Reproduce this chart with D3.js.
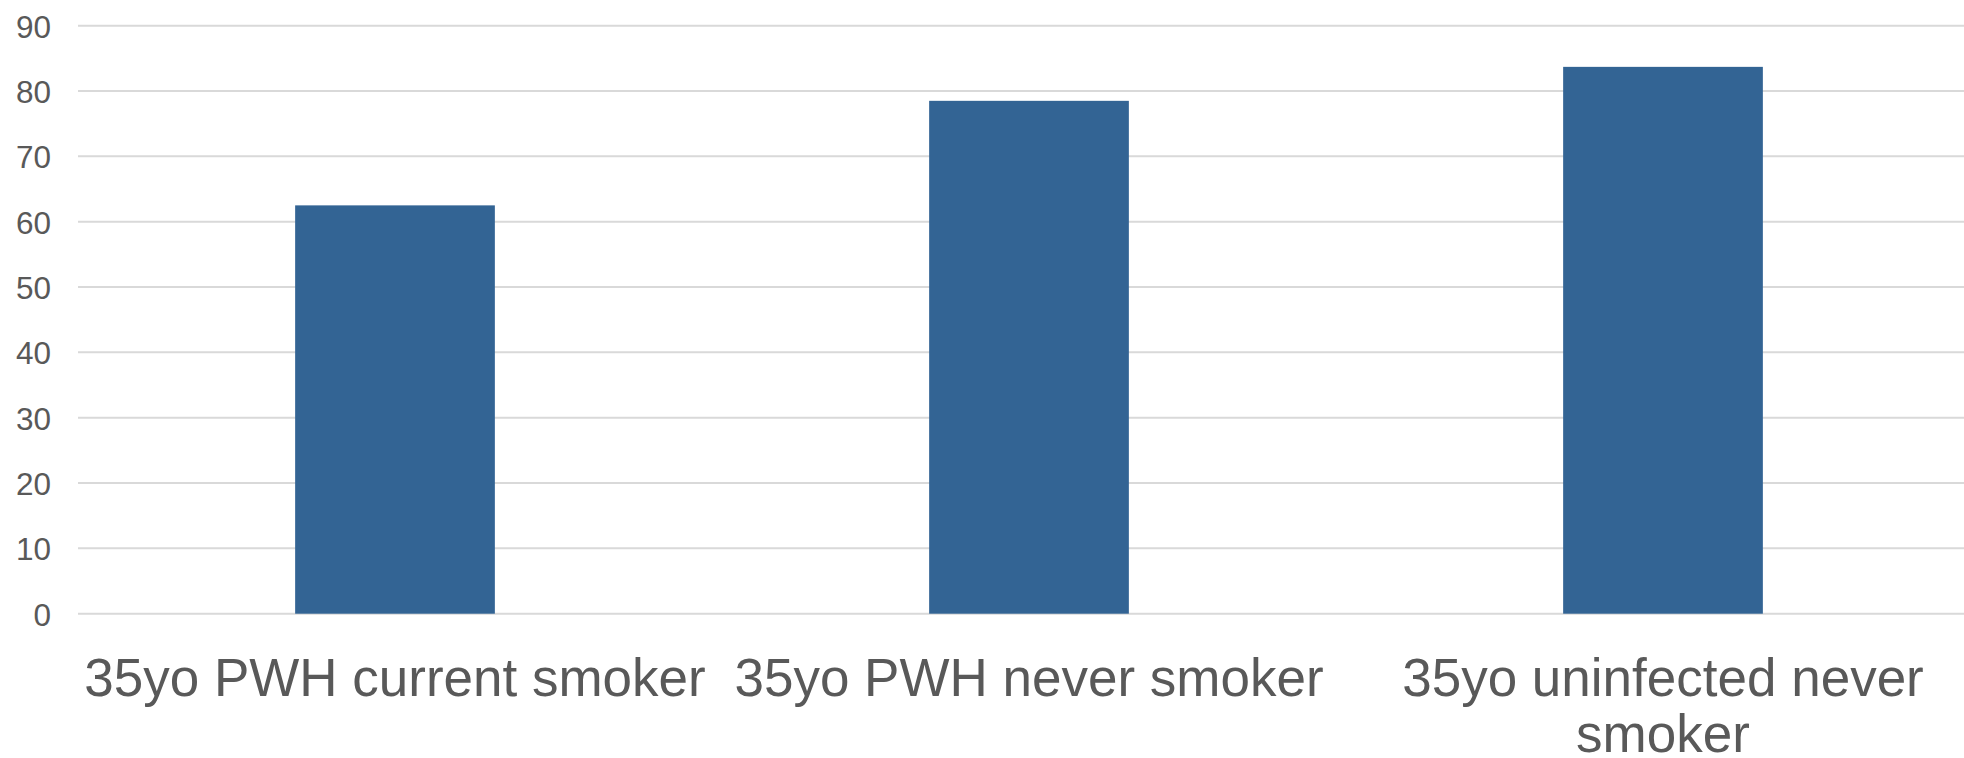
<!DOCTYPE html>
<html>
<head>
<meta charset="utf-8">
<script src="https://cdn.jsdelivr.net/npm/d3@7"></script>
<style>
  html, body { margin: 0; padding: 0; background: #ffffff; }
  svg { display: block; font-family: "Liberation Sans", Arial, sans-serif; }
</style>
</head>
<body>
<svg id="chart" width="1964" height="758"></svg>
<script>
// Life expectancy (years) by group
const categories = [
  "35yo PWH current smoker",
  "35yo PWH never smoker",
  "35yo uninfected never smoker"
];
const values = [62.5, 78.5, 83.7];
const tickValues = [0, 10, 20, 30, 40, 50, 60, 70, 80, 90];

const svg = d3.select("#chart");
const plot = { left: 78, right: 1980, top: 25.7, bottom: 613.7 };

const x = d3.scaleBand()
  .domain(categories)
  .range([plot.left, plot.right])
  .paddingInner(0.685)
  .paddingOuter(0.3425);

const y = d3.scaleLinear()
  .domain([0, 90])
  .range([plot.bottom, plot.top]);

// Horizontal gridlines
svg.append("g")
  .selectAll("line")
  .data(tickValues)
  .join("line")
  .attr("x1", plot.left)
  .attr("x2", plot.right)
  .attr("y1", d => y(d))
  .attr("y2", d => y(d))
  .attr("stroke", "#d9d9d9")
  .attr("stroke-width", 2);

// Y axis labels
const yAxis = d3.axisLeft(y).tickValues(tickValues).tickSize(0).tickPadding(0);
const gy = svg.append("g")
  .attr("transform", "translate(51,0)")
  .call(yAxis);
gy.select(".domain").remove();
gy.selectAll("text")
  .attr("fill", "#595959")
  .attr("font-size", "31.5px")
  .attr("font-family", "'Liberation Sans', Arial, sans-serif")
  .attr("dy", "0.36em");

// Bars
svg.append("g")
  .selectAll("rect")
  .data(values)
  .join("rect")
  .attr("x", (d, i) => x(categories[i]))
  .attr("width", x.bandwidth())
  .attr("y", d => y(d))
  .attr("height", d => y(0) - y(d))
  .attr("fill", "#336494");

// Category labels, wrapped to the band width
const labelFont = 53;
const lineHeight = 56;
const step = x.step();
const labels = svg.append("g")
  .attr("fill", "#595959")
  .attr("font-size", labelFont + "px")
  .attr("text-anchor", "middle");

categories.forEach(cat => {
  const cx = x(cat) + x.bandwidth() / 2;
  const t = labels.append("text").attr("x", cx).attr("y", 696);
  const words = cat.split(" ");
  let line = [];
  let lineNo = 0;
  let tspan = t.append("tspan").attr("x", cx).attr("dy", 0);
  words.forEach(w => {
    line.push(w);
    tspan.text(line.join(" "));
    if (tspan.node().getComputedTextLength() > step && line.length > 1) {
      line.pop();
      tspan.text(line.join(" "));
      line = [w];
      lineNo++;
      tspan = t.append("tspan").attr("x", cx).attr("dy", lineHeight).text(w);
    }
  });
});
</script>
</body>
</html>
